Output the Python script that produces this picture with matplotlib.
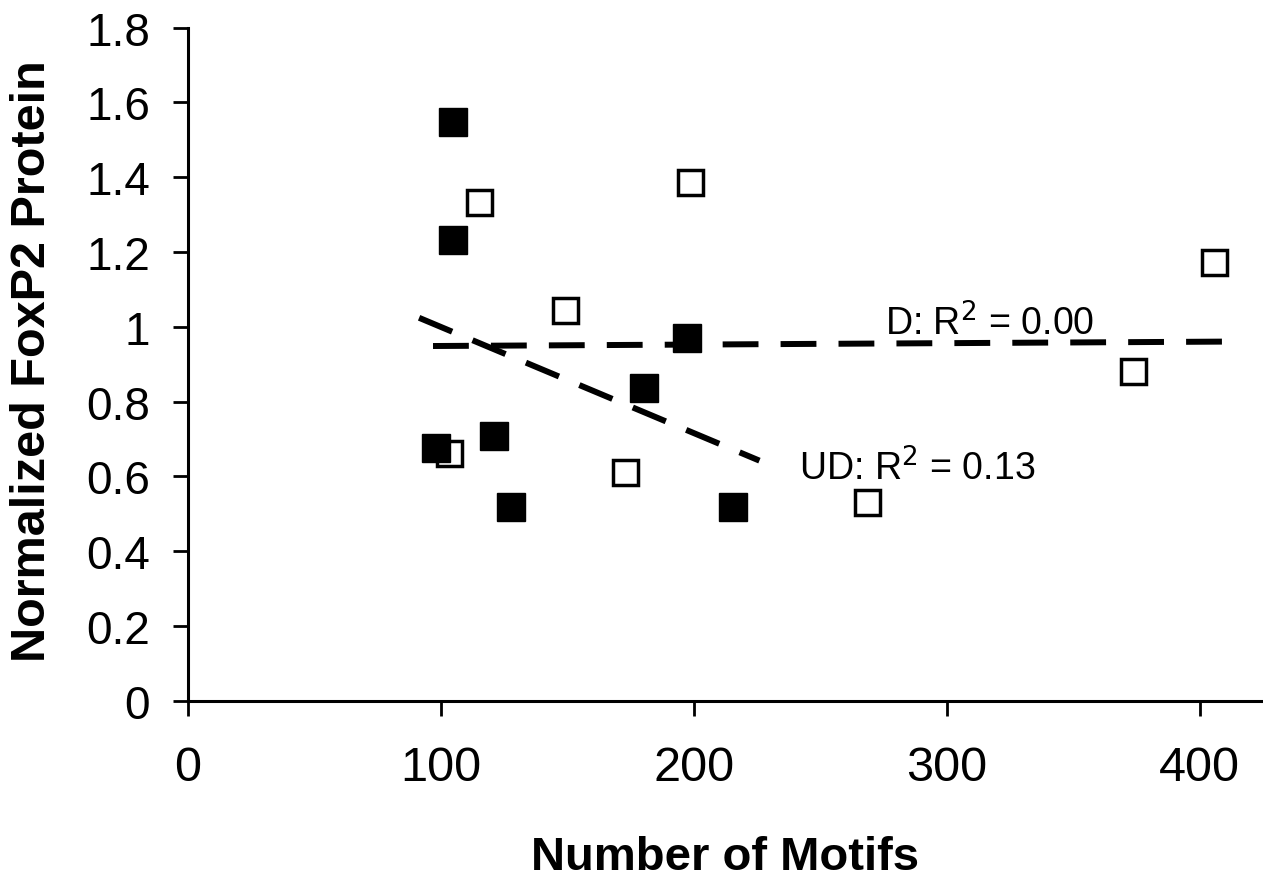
import numpy as np
import matplotlib
matplotlib.use("Agg")
import matplotlib.pyplot as plt

plt.rcParams['font.family'] = ['Liberation Sans', 'DejaVu Sans']

# UD group (filled squares)
ud_motifs = [105, 105, 98, 121, 128, 197.5, 180.5, 215.6]
ud_protein = [1.547, 1.232, 0.676, 0.708, 0.518, 0.970, 0.836, 0.518]

# D group (open squares)
d_motifs = [115, 198.6, 149, 103.4, 173, 405.7, 373.6, 268.6]
d_protein = [1.334, 1.387, 1.045, 0.663, 0.612, 1.173, 0.882, 0.532]

# x-range over which each trendline is drawn
ud_fit_span = [91.5, 226]
d_fit_span = [97, 412]

ud_label = "UD: R$^2$ = 0.13"
d_label = "D: R$^2$ = 0.00"

xticks = [0, 100, 200, 300, 400]
yticks = [0, 0.2, 0.4, 0.6, 0.8, 1, 1.2, 1.4, 1.6, 1.8]
ytick_labels = ["0", "0.2", "0.4", "0.6", "0.8", "1", "1.2", "1.4", "1.6", "1.8"]


def trendline(x, y, span):
    slope, intercept = np.polyfit(x, y, 1)
    xs = np.array(span)
    return xs, slope * xs + intercept


fig = plt.figure(figsize=(12.63, 8.78), dpi=100)
ax = fig.add_axes([0.1485, 0.2005, 0.8515, 0.767])

dash = (0, (6.0, 3.7))

ax.plot(d_motifs, d_protein, 's', markersize=18, markerfacecolor='white',
        markeredgecolor='black', markeredgewidth=2.5, zorder=3)
ax.plot(ud_motifs, ud_protein, 's', markersize=20, markerfacecolor='black',
        markeredgecolor='black', markeredgewidth=1, zorder=4)

xs, ys = trendline(d_motifs, d_protein, d_fit_span)
ax.plot(xs, ys, color='black', linewidth=4.3, linestyle=dash, zorder=5)
xs, ys = trendline(ud_motifs, ud_protein, ud_fit_span)
ax.plot(xs, ys, color='black', linewidth=4.3, linestyle=dash, zorder=5)

ax.text(275.7, 0.98, d_label, fontsize=27, va='baseline', ha='left')
ax.text(241.7, 0.593, ud_label, fontsize=27, va='baseline', ha='left')

ax.set_xlim(0, 425)
ax.set_ylim(0, 1.8)
ax.set_xticks(xticks)
ax.set_yticks(yticks)
ax.set_yticklabels(ytick_labels)

for side in ['top', 'right']:
    ax.spines[side].set_visible(False)
for side in ['left', 'bottom']:
    ax.spines[side].set_linewidth(2.2)

ax.tick_params(axis='both', direction='out', length=11, width=2)
ax.tick_params(axis='x', labelsize=35, pad=21)
ax.tick_params(axis='y', labelsize=33, pad=16)

fig.text(0.574, 0.009, "Number of Motifs", fontsize=34, fontweight='bold',
         ha='center', va='baseline')
fig.text(0.026, 0.589, "Normalized FoxP2 Protein", fontsize=35, fontweight='bold',
         ha='center', va='center', rotation=90)

fig.savefig("out.png", dpi=100, facecolor='white')
